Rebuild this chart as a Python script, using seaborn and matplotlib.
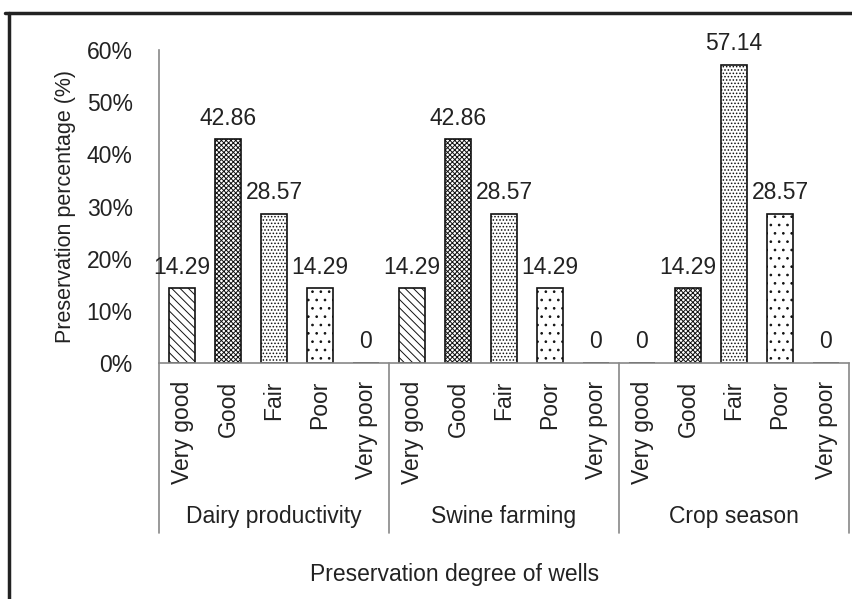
import pandas as pd
import matplotlib.pyplot as plt
import matplotlib.lines as mlines
import matplotlib.transforms as mtrans
from matplotlib.ticker import FuncFormatter
import seaborn as sns

# Chart data.
groups = ['Dairy productivity', 'Swine farming', 'Crop season']
degrees = ['Very good', 'Good', 'Fair', 'Poor', 'Very poor']
dairy = [14.29, 42.86, 28.57, 14.29, 0]
swine = [14.29, 42.86, 28.57, 14.29, 0]
crop = [0, 14.29, 57.14, 28.57, 0]
hatches = ['\\\\\\\\', 'xxxxxxx', '.....', '..', '']

rows = []
for g, vals in zip(groups, [dairy, swine, crop]):
    for d, v in zip(degrees, vals):
        rows.append({'group': g, 'degree': d, 'key': g + '|' + d, 'value': v})
plots_data = pd.DataFrame(rows)

sns.set_style('white')
plt.rcParams['font.family'] = ['Liberation Sans', 'DejaVu Sans']
plt.rcParams['hatch.linewidth'] = 0.7
txt = '#222222'
fs = 16.5

fig = plt.figure(figsize=(8.52, 5.99), dpi=100)
ax = fig.add_axes([159 / 852, 1 - 363 / 599, 690 / 852, 313 / 599])

sns.barplot(data=plots_data, x='key', y='value', order=list(plots_data['key']),
            color='white', edgecolor='#111111', linewidth=1.2, width=0.565, ax=ax)

for patch, h in zip(ax.patches, hatches * len(groups)):
    patch.set_hatch(h)

ax.bar_label(ax.containers[0], fmt='{:g}', padding=7, fontsize=fs, color=txt)

ax.set_ylim(0, 60)
ax.set_xlim(-0.5, len(plots_data) - 0.5)
ax.set_yticks(range(0, 61, 10))
ax.yaxis.set_major_formatter(FuncFormatter(lambda v, p: f'{v:.0f}%'))
ax.set_xticks(range(len(plots_data)))
ax.set_xticklabels(list(plots_data['degree']), rotation=90)
ax.tick_params(axis='both', length=0, labelsize=fs, labelcolor=txt)
ax.tick_params(axis='x', pad=13)
ax.tick_params(axis='y', pad=19)

ax.set_xlabel('')
ax.set_ylabel('Preservation percentage (%)', fontsize=15.5, color=txt, labelpad=8)

for s in ['top', 'right']:
    ax.spines[s].set_visible(False)
for s in ['left', 'bottom']:
    ax.spines[s].set_color('#888888')
    ax.spines[s].set_linewidth(1.2)

# Group separators and group names under the axis
trans = mtrans.blended_transform_factory(ax.transData, ax.transAxes)
for i in range(len(groups) + 1):
    x = i * len(degrees) - 0.5
    ax.plot([x, x], [0, -0.543], transform=trans, color='#888888',
            linewidth=1.2, clip_on=False)
for i, g in enumerate(groups):
    ax.text(i * len(degrees) + 2, -0.49, g, transform=trans, ha='center',
            va='center', fontsize=fs, color=txt)

fig.text(0.534, 1 - 575 / 599, 'Preservation degree of wells', ha='center',
         va='center', fontsize=fs, color=txt)

# Frame lines on top and left of the picture
fig.add_artist(mlines.Line2D([5 / 852, 1], [1 - 13 / 599, 1 - 13 / 599],
                             color='#222222', linewidth=2.5))
fig.add_artist(mlines.Line2D([9 / 852, 9 / 852], [0, 1 - 13 / 599],
                             color='#222222', linewidth=2.5))

fig.savefig('out.png', dpi=100)
